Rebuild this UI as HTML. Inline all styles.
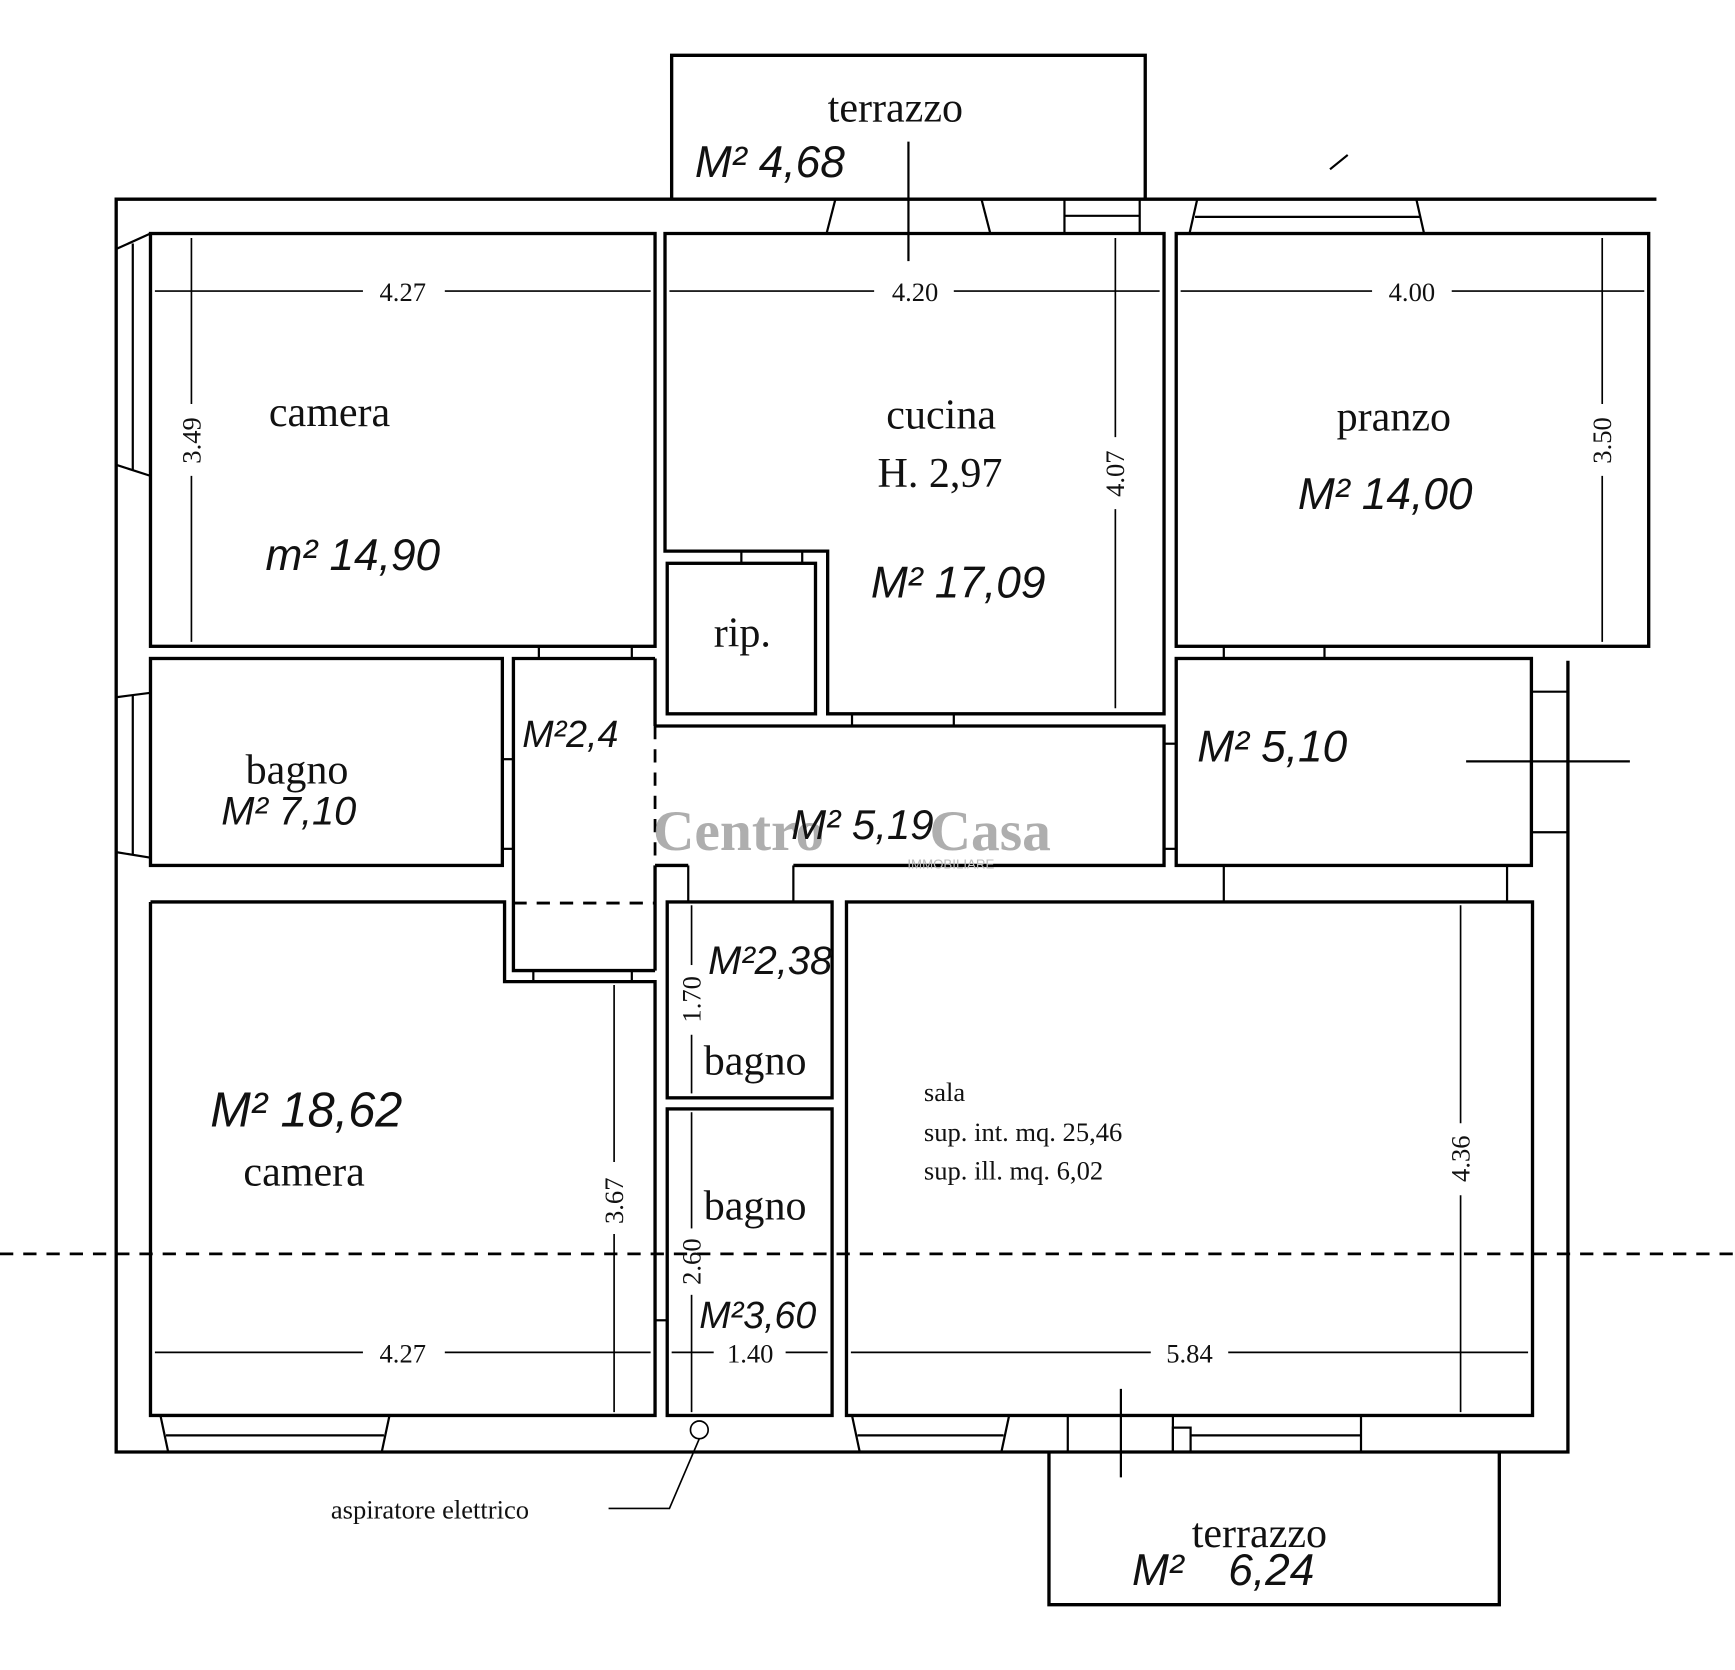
<!DOCTYPE html>
<html><head><meta charset="utf-8"><style>
html,body{margin:0;padding:0;background:#fff;}
svg{display:block;}
.s{font-family:"Liberation Serif",serif;fill:#111;}
.h{font-family:"Liberation Sans",sans-serif;font-style:italic;fill:#111;}
</style></head><body>
<svg width="1735" height="1670" viewBox="0 0 1568 1509" preserveAspectRatio="none" xmlns="http://www.w3.org/2000/svg">
<g fill="none" stroke="#000" stroke-width="3">
<polyline points="1497,180 105,180 105,1312 1417,1312 1417,597"/>
<polyline points="607,180 607,50 1035,50 1035,180"/>
<polyline points="948,1312 948,1450 1355,1450 1355,1312"/>
<rect x="136" y="211" width="456" height="373"/>
<polygon points="601,211 1052,211 1052,645 748,645 748,498 601,498"/>
<rect x="603" y="509" width="134" height="136"/>
<rect x="1063" y="211" width="427" height="373"/>
<rect x="136" y="595" width="318" height="187"/>
<polyline points="592,595 464,595 464,877 592,877"/>
<line x1="592" y1="595" x2="592" y2="656"/>
<line x1="592" y1="782" x2="592" y2="877"/>
<polyline points="592,656 1052,656 1052,782 717,782"/>
<line x1="592" y1="782" x2="622" y2="782"/>
<rect x="1063" y="595" width="321" height="187"/>
<polyline points="136,815 456,815 456,887 592,887 592,1279 136,1279 136,815"/>
<rect x="603" y="815" width="149" height="177"/>
<rect x="603" y="1002" width="149" height="277"/>
<rect x="765" y="815" width="620" height="464"/>
</g>
<g fill="none" stroke="#000" stroke-width="2">
<line x1="487" y1="584" x2="487" y2="595"/><line x1="571" y1="584" x2="571" y2="595"/>
<line x1="670" y1="498" x2="670" y2="509"/><line x1="725" y1="498" x2="725" y2="509"/>
<line x1="770" y1="645" x2="770" y2="656"/><line x1="862" y1="645" x2="862" y2="656"/>
<line x1="1106" y1="584" x2="1106" y2="595"/><line x1="1197" y1="584" x2="1197" y2="595"/>
<line x1="622" y1="782" x2="622" y2="815"/><line x1="717" y1="782" x2="717" y2="815"/>
<line x1="1106" y1="782" x2="1106" y2="815"/><line x1="1362" y1="782" x2="1362" y2="815"/>
<line x1="482" y1="877" x2="482" y2="887"/><line x1="571" y1="877" x2="571" y2="887"/>
<line x1="454" y1="686" x2="464" y2="686"/><line x1="454" y1="767" x2="464" y2="767"/>
<line x1="1052" y1="672" x2="1063" y2="672"/><line x1="1052" y1="767" x2="1063" y2="767"/>
<line x1="592" y1="1193" x2="603" y2="1193"/>
<polyline points="747,211 755,180"/><polyline points="895,211 887,180"/>
<polyline points="962,180 962,211"/><line x1="962" y1="195" x2="1030" y2="195"/><line x1="1030" y1="180" x2="1030" y2="211"/>
<polyline points="1075,211 1082,180"/><polyline points="1287,211 1280,180"/><line x1="1080" y1="196" x2="1284" y2="196"/>
<polyline points="105,225 136,211"/><polyline points="105,420 136,430"/><line x1="120" y1="220" x2="120" y2="425"/>
<polyline points="105,630 136,626"/><polyline points="105,770 136,775"/><line x1="120" y1="628" x2="120" y2="772"/>
<polyline points="145,1279 152,1312"/><polyline points="352,1279 345,1312"/><line x1="150" y1="1297" x2="347" y2="1297"/>
<polyline points="770,1279 777,1312"/><polyline points="912,1279 905,1312"/><line x1="775" y1="1297" x2="907" y2="1297"/>
<line x1="965" y1="1279" x2="965" y2="1312"/><line x1="1060" y1="1279" x2="1060" y2="1312"/>
<rect x="1060" y="1290" width="16" height="22"/><line x1="1076" y1="1297" x2="1230" y2="1297"/><line x1="1230" y1="1279" x2="1230" y2="1312"/>
<line x1="1384" y1="625" x2="1417" y2="625"/><line x1="1384" y1="752" x2="1417" y2="752"/>
<line x1="1325" y1="688" x2="1473" y2="688"/>
<line x1="1013" y1="1255" x2="1013" y2="1335"/>
<line x1="821" y1="128" x2="821" y2="236"/>
<line x1="1202" y1="153" x2="1218" y2="140"/>
</g>
<g fill="none" stroke="#000" stroke-width="2.5" stroke-dasharray="12,9">
<line x1="0" y1="1133" x2="1568" y2="1133"/>
<line x1="464" y1="816" x2="592" y2="816"/>
<line x1="592" y1="656" x2="592" y2="782"/>
</g>
<g stroke="#000" stroke-width="1.5" fill="none">
<line x1="140" y1="263" x2="328" y2="263"/><line x1="402" y1="263" x2="588" y2="263"/>
<line x1="605" y1="263" x2="790" y2="263"/><line x1="862" y1="263" x2="1048" y2="263"/>
<line x1="1067" y1="263" x2="1240" y2="263"/><line x1="1312" y1="263" x2="1486" y2="263"/>
<line x1="140" y1="1222" x2="328" y2="1222"/><line x1="402" y1="1222" x2="588" y2="1222"/>
<line x1="607" y1="1222" x2="645" y2="1222"/><line x1="710" y1="1222" x2="748" y2="1222"/>
<line x1="769" y1="1222" x2="1040" y2="1222"/><line x1="1110" y1="1222" x2="1381" y2="1222"/>
<line x1="173" y1="215" x2="173" y2="365"/><line x1="173" y1="430" x2="173" y2="580"/>
<line x1="1008" y1="215" x2="1008" y2="395"/><line x1="1008" y1="460" x2="1008" y2="640"/>
<line x1="1448" y1="215" x2="1448" y2="365"/><line x1="1448" y1="430" x2="1448" y2="580"/>
<line x1="555" y1="890" x2="555" y2="1050"/><line x1="555" y1="1115" x2="555" y2="1276"/>
<line x1="625" y1="818" x2="625" y2="872"/><line x1="625" y1="935" x2="625" y2="988"/>
<line x1="625" y1="1005" x2="625" y2="1110"/><line x1="625" y1="1170" x2="625" y2="1276"/>
<line x1="1320" y1="818" x2="1320" y2="1015"/><line x1="1320" y1="1080" x2="1320" y2="1276"/>
<circle cx="632" cy="1292" r="8"/>
<polyline points="632,1300 605,1363 550,1363"/>
</g>
<g class="s" font-size="24" text-anchor="middle">
<text x="364" y="272">4.27</text><text x="827" y="272">4.20</text><text x="1276" y="272">4.00</text>
<text x="364" y="1231">4.27</text><text x="678" y="1231">1.40</text><text x="1075" y="1231">5.84</text>
<text transform="translate(181,398) rotate(-90)">3.49</text>
<text transform="translate(1016,428) rotate(-90)">4.07</text>
<text transform="translate(1456,398) rotate(-90)">3.50</text>
<text transform="translate(563,1085) rotate(-90)">3.67</text>
<text transform="translate(633,903) rotate(-90)">1.70</text>
<text transform="translate(633,1140) rotate(-90)">2.60</text>
<text transform="translate(1328,1047) rotate(-90)">4.36</text>
</g>
<g class="s" font-size="38">
<text x="748" y="110">terrazzo</text>
<text x="243" y="385">camera</text>
<text x="801" y="387">cucina</text>
<text x="793" y="440">H. 2,97</text>
<text x="1208" y="389">pranzo</text>
<text x="645" y="584">rip.</text>
<text x="222" y="708">bagno</text>
<text x="636" y="971">bagno</text>
<text x="636" y="1102">bagno</text>
<text x="220" y="1071">camera</text>
<text x="1077" y="1398">terrazzo</text>
</g>
<g class="s" font-size="24">
<text x="835" y="995">sala</text>
<text x="835" y="1031">sup. int. mq. 25,46</text>
<text x="835" y="1066">sup. ill. mq. 6,02</text>
<text x="299" y="1372">aspiratore elettrico</text>
</g>
<text x="590" y="768" font-family="Liberation Serif,serif" font-size="52" font-weight="bold" fill="#9a9a9a" opacity="0.8">Centro</text>
<text x="840" y="768" font-family="Liberation Serif,serif" font-size="52" font-weight="bold" fill="#9a9a9a" opacity="0.8">Casa</text>
<text x="820" y="785" font-family="Liberation Sans,sans-serif" font-size="12" fill="#bbb">IMMOBILIARE</text>
<g class="h" font-size="40">
<text x="628" y="160">M² 4,68</text>
<text x="240" y="515">m² 14,90</text>
<text x="787" y="540">M² 17,09</text>
<text x="1173" y="460">M² 14,00</text>
<text x="472" y="675" font-size="34">M²2,4</text>
<text x="200" y="745" font-size="36">M² 7,10</text>
<text x="715" y="758" font-size="38">M² 5,19</text>
<text x="1082" y="688">M²  5,10</text>
<text x="640" y="880" font-size="36">M²2,38</text>
<text x="190" y="1018" font-size="44">M² 18,62</text>
<text x="632" y="1200" font-size="34">M²3,60</text>
<text x="1023" y="1432">M²</text>
<text x="1110" y="1432">6,24</text>
</g>
</svg>
</body></html>
